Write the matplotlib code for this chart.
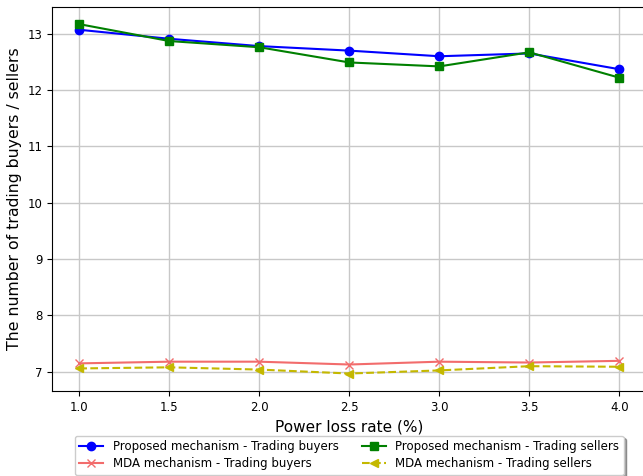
import matplotlib
matplotlib.use("Agg")
import matplotlib.pyplot as plt

loss_rate = [1.0, 1.5, 2.0, 2.5, 3.0, 3.5, 4.0]
proposed_buyers = [13.07, 12.91, 12.78, 12.70, 12.60, 12.65, 12.37]
proposed_sellers = [13.17, 12.87, 12.76, 12.49, 12.42, 12.67, 12.22]
mda_buyers = [7.15, 7.18, 7.18, 7.13, 7.18, 7.165, 7.195]
mda_sellers = [7.06, 7.08, 7.04, 6.97, 7.025, 7.10, 7.09]

fig = plt.figure(figsize=(6.43, 4.76), dpi=100)
ax = fig.add_axes([0.0813, 0.1786, 0.9238, 0.8074])

ax.plot(loss_rate, proposed_buyers, color="blue", marker="o",
        label="Proposed mechanism - Trading buyers")
ax.plot(loss_rate, mda_buyers, color="#f26c6c", marker="x",
        label="MDA mechanism - Trading buyers")
ax.plot(loss_rate, proposed_sellers, color="green", marker="s",
        label="Proposed mechanism - Trading sellers")
ax.plot(loss_rate, mda_sellers, color="#c4b800", marker="<", linestyle="--",
        label="MDA mechanism - Trading sellers")

ax.set_xlabel("Power loss rate (%)", fontsize=11)
ax.set_ylabel("The number of trading buyers / sellers", fontsize=11.3)
ax.tick_params(labelsize=8.5)
ax.grid(True, color="#c8c8c8", linewidth=1)

ax.legend(loc="upper center", bbox_to_anchor=(0.5, -0.101), ncol=2,
          fontsize=8.5, labelspacing=0.33, shadow=True, fancybox=True)

fig.savefig("out.png", dpi=100)
